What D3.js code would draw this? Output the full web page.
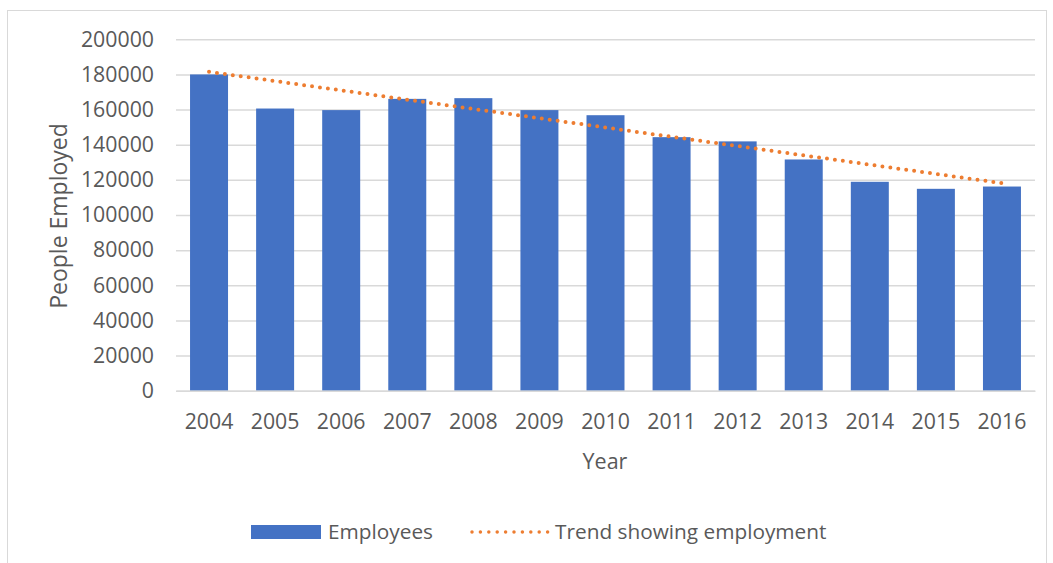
<!DOCTYPE html>
<html>
<head>
<meta charset="utf-8">
<script src="https://cdn.jsdelivr.net/npm/d3@7"></script>
<style>
  html, body { margin: 0; padding: 0; background: #fff; }
  svg { display: block; }
  text { font-family: "Open Sans", "Liberation Sans", sans-serif; fill: #595959; }
</style>
</head>
<body>
<svg id="chart" width="1053" height="563"></svg>
<script>
const years = ["2004","2005","2006","2007","2008","2009","2010","2011","2012","2013","2014","2015","2016"];
const employees = [180000,160600,159700,166100,166500,159700,156800,144300,141900,131600,118900,114900,116200];
const trendYears = ["2004","2016"];
const trendValues = [181500,118100];
const yTicks = [0,20000,40000,60000,80000,100000,120000,140000,160000,180000,200000];
const seriesNames = ["Employees","Trend showing employment"];
const yTitle = "People Employed";
const xTitle = "Year";

const svg = d3.select("#chart");
const plot = {left: 176, right: 1035, top: 39.3, bottom: 390.7};

svg.append("rect").attr("x", 7.5).attr("y", 10.5).attr("width", 1039).attr("height", 560)
  .attr("fill", "#fff").attr("stroke", "#d9d9d9").attr("stroke-width", 1);

const x = d3.scaleBand().domain(years).range([plot.left, plot.right])
  .paddingInner(0.425).paddingOuter(0.2125);
const y = d3.scaleLinear().domain([0, 200000]).range([plot.bottom, plot.top]);

// gridlines + y labels
const yAxis = d3.axisLeft(y).tickValues(yTicks).tickSize(-(plot.right - plot.left)).tickPadding(22).tickFormat(d3.format("d"));
const gy = svg.append("g").attr("transform", `translate(${plot.left},0)`).call(yAxis);
gy.select(".domain").remove();
gy.selectAll(".tick line").attr("stroke", "#d9d9d9").attr("stroke-width", 1.5);
gy.selectAll(".tick text").attr("font-size", 21.3).attr("fill", "#595959")
  .style("font-family", '"Open Sans", sans-serif');

// bars
svg.append("g").selectAll("rect").data(years).join("rect")
  .attr("x", d => x(d)).attr("width", x.bandwidth())
  .attr("y", (d, i) => y(employees[i]))
  .attr("height", (d, i) => y(0) - y(employees[i]))
  .attr("fill", "#4472c4");

// x axis
const xAxis = d3.axisBottom(x).tickSize(0).tickPadding(23);
const gx = svg.append("g").attr("transform", `translate(0,${plot.bottom})`).call(xAxis);
gx.select(".domain").attr("stroke", "#d9d9d9").attr("stroke-width", 1.5);
gx.selectAll(".tick text").attr("font-size", 21.3).attr("fill", "#595959")
  .style("font-family", '"Open Sans", sans-serif');

// trend line
const line = d3.line().x(d => x(d[0]) + x.bandwidth() / 2).y(d => y(d[1]));
svg.append("path").datum(trendYears.map((d, i) => [d, trendValues[i]]))
  .attr("d", line).attr("fill", "none").attr("stroke", "#ed7d31")
  .attr("stroke-width", 4).attr("stroke-linecap", "round").attr("stroke-dasharray", "0,8");

// axis titles
svg.append("text").attr("transform", `translate(67,216) rotate(-90)`)
  .attr("text-anchor", "middle").attr("font-size", 23).text(yTitle);
svg.append("text").attr("x", 605).attr("y", 469)
  .attr("text-anchor", "middle").attr("font-size", 21.5).text(xTitle);

// legend
const lg = svg.append("g");
lg.append("rect").attr("x", 251).attr("y", 525).attr("width", 70).attr("height", 14).attr("fill", "#4472c4");
lg.append("text").attr("x", 328).attr("y", 539).attr("font-size", 20.8).text(seriesNames[0]);
lg.append("line").attr("x1", 472).attr("x2", 548).attr("y1", 532).attr("y2", 532)
  .attr("stroke", "#ed7d31").attr("stroke-width", 3.5).attr("stroke-linecap", "round").attr("stroke-dasharray", "0,8.4");
lg.append("text").attr("x", 555).attr("y", 539).attr("font-size", 20.8).text(seriesNames[1]);
</script>
</body>
</html>
